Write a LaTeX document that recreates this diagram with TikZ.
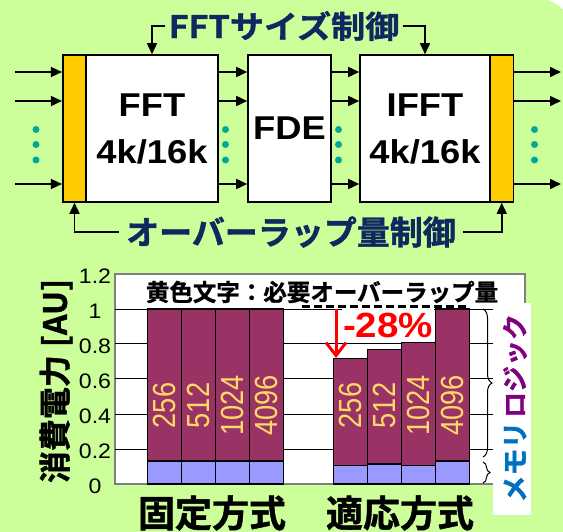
\documentclass[tikz,border=0pt]{standalone}
\usepackage{fontspec}
\setmainfont{Liberation Sans}
\newfontfamily\wide{Liberation Sans}[FakeStretch=1.1]
\newfontfamily\narrow{Liberation Sans}[FakeStretch=0.85]
\newfontfamily\jp{Noto Sans CJK JP Bold}[FakeBold=1.2]
\newfontfamily\jpw{Noto Sans CJK JP Bold}[FakeStretch=1.1,FakeBold=1.2]
\usetikzlibrary{arrows.meta,decorations.pathreplacing}
\definecolor{bggreen}{RGB}{204,255,153}
\definecolor{ctlblue}{RGB}{16,40,96}
\definecolor{barlogic}{RGB}{153,51,102}
\definecolor{barmem}{RGB}{153,153,255}
\definecolor{ybar}{RGB}{255,204,0}
\definecolor{dotc}{RGB}{0,168,155}
\definecolor{lblc}{RGB}{255,217,102}
\definecolor{logicc}{RGB}{128,0,128}
\definecolor{memc}{RGB}{0,112,192}
\definecolor{redc}{RGB}{255,0,0}
\tikzset{
  arr/.style={line width=1.6pt,-{Triangle[length=11pt,width=10pt]}},
  blk/.style={draw=black,line width=1.6pt,fill=white,inner sep=0pt,minimum height=147pt,
    align=center,font=\wide\bfseries\fontsize{33}{47}\selectfont},
  ybx/.style={draw=black,line width=1.6pt,fill=ybar,inner sep=0pt,minimum height=147pt,minimum width=23.5pt},
  ctl/.style={text=ctlblue,inner sep=3pt},
  tick/.style={font=\wide\fontsize{21}{21}\selectfont,inner sep=0pt},
  barbd/.style={draw=black,line width=1.4pt},
  barlab/.style={rotate=90,text=lblc,font=\narrow\fontsize{32}{32}\selectfont,inner sep=0pt},
  grid/.style={line width=1pt,black},
  brc/.style={decorate,line width=1pt},
}
\begin{document}
\begin{tikzpicture}[x=1pt,y=-1pt]
\useasboundingbox (0,0) rectangle (563,532);
\clip (0,0) rectangle (563,532);
\fill[white] (0,0) rectangle (563,532);
\fill[bggreen,rounded corners=40pt] (-60,-2) rectangle (575,600);

% ---- block diagram ----
\node[ybx] (yl) at (74.5,128.5) {};
\node[blk,minimum width=132pt] (fft) at (152,128.5) {FFT\\4k/16k};
\node[blk,minimum width=83pt] (fde) at (289.5,128.5) {FDE};
\node[blk,minimum width=130pt] (ifft) at (425,128.5) {IFFT\\4k/16k};
\node[ybx] (yr) at (501.75,128.5) {};

\foreach \yy [count=\i] in {72,101,184}{
  \coordinate (in\i) at (15,\yy);
  \coordinate (out\i) at (561,\yy);
  \draw[arr] (in\i) -- (in\i -| yl.west);
  \draw[arr] (fft.east |- in\i) -- (fde.west |- in\i);
  \draw[arr] (fde.east |- in\i) -- (ifft.west |- in\i);
  \draw[arr] (yr.east |- in\i) -- (out\i);
}
\foreach \xx in {36,225.5,338.5,534.5}{
  \foreach \yy in {129.5,144.5,160}{
    \fill[dotc] (\xx,\yy) circle[radius=3.5pt];
  }
}

\node[ctl,font=\jpw\fontsize{31}{31}\selectfont] (ttl) at (284,26) {FFTサイズ制御};
\draw[arr] (ttl.west) -| (fft.north);
\draw[arr] (ttl.east) -| (ifft.north);

\node[ctl,font=\jp\fontsize{33}{33}\selectfont,inner xsep=7pt] (ovl) at (291,232) {オーバーラップ量制御};
\draw[arr] (ovl.west) -| (yl.south);
\draw[arr] (ovl.east) -| (yr.south);

% ---- chart ----
\draw[line width=1.2pt,draw=gray,fill=white] (115,274) rectangle (525,484);
\foreach \v in {0.2,0.4,0.6,0.8,1.0}{
  \draw[grid] (115,{484-175*\v}) -- (493,{484-175*\v});
}
\foreach \v/\t [count=\i] in {0/0,0.2/0.2,0.4/0.4,0.6/0.6,0.8/0.8,1/1,1.2/1.2}{
  \node[tick] (tk\i) at (95,{486-175*\v}) {\t};
}
\node[inner sep=0pt,font=\jp\fontsize{23.5}{24}\selectfont] (ctitle) at (322,292) {黄色文字：必要オーバーラップ量};
\coordinate (d0) at (302,306.5);
\coordinate (d1) at (466,306.5);
\draw[line width=2.5pt,dash pattern=on 8pt off 4pt] (d0) -- (d1);

\node[fill=white,inner xsep=1pt,inner ysep=0pt,minimum height=33pt,text=redc,
  font=\wide\bfseries\fontsize{35}{35}\selectfont] (pct) at (388,325.5) {-28\%};

\foreach \bx/\m/\t/\lab [count=\i] in {147.2/0.131/1/256,181.3/0.131/1/512,215.4/0.131/1/1024,249.5/0.131/1/4096,
  333.2/0.105/0.718/256,367.3/0.114/0.77/512,401.4/0.105/0.81/1024,435.5/0.131/1/4096}{
  \draw[barbd,fill=barmem] (\bx,484) rectangle ({\bx+34.1},{484-175*\m});
  \draw[barbd,fill=barlogic] (\bx,{484-175*\m}) rectangle ({\bx+34.1},{484-175*\t});
  \node[barlab] (bl\i) at ({\bx+17.05},405.5) {\lab};
}

\coordinate (r0) at (336,309);
\coordinate (r1) at (336,358);
\draw[redc,line width=3pt,-{Straight Barb[length=13pt,width=20pt,line width=3pt]}] (r0) -- (r1);

% legend box
\node[fill=white,inner sep=0pt,minimum width=38pt,minimum height=212pt] (leg) at (511.8,408.9) {};
\node[rotate=90,text=logicc,inner sep=0pt,font=\jp\fontsize{26}{26}\selectfont] (lg1) at (515,366) {ロジック};
\node[rotate=90,text=memc,inner sep=0pt,font=\jp\fontsize{27}{27}\selectfont] (lg2) at (515,462) {メモリ};
\coordinate (b0) at (483,309);
\coordinate (b1) at (483,457);
\coordinate (b2) at (483,462);
\coordinate (b3) at (483,483);
\draw[brc,decoration={brace,amplitude=9pt}] (b0) -- (b1);
\draw[brc,decoration={brace,amplitude=7pt}] (b2) -- (b3);

\node[rotate=90,inner sep=0pt,font=\jp\fontsize{32}{32}\selectfont] (ytitle) at (56,381) {消費電力\hspace{8pt}[AU]};
\node[inner sep=0pt,font=\jp\fontsize{37}{37}\selectfont] (cat1) at (212,513) {固定方式};
\node[inner sep=0pt,font=\jp\fontsize{37}{37}\selectfont] (cat2) at (400,513) {適応方式};
\end{tikzpicture}
\end{document}
